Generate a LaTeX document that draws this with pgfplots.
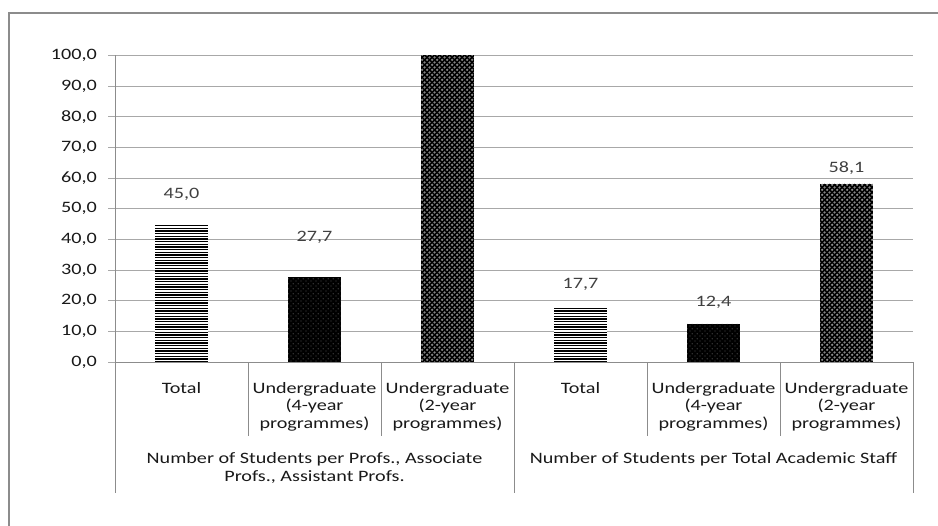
\documentclass[border=0pt]{standalone}
\usepackage{fontspec}
\setmainfont{Carlito}[FakeStretch=1.27]
\usepackage{pgfplots}
\pgfplotsset{compat=1.18}
\usetikzlibrary{patterns}

\newcommand\fs{\fontsize{11.9}{13.1}\selectfont}
\definecolor{framegray}{HTML}{8C8C8C}
\definecolor{gridgray}{HTML}{A8A8A8}
\definecolor{labelgray}{HTML}{404040}

% thin horizontal stripes
\pgfdeclarepatternformonly{hstripes}{\pgfpoint{-0.1pt}{-0.1pt}}{\pgfpoint{1.1pt}{2.1pt}}{\pgfpoint{1pt}{2pt}}{%
  \pgfsetlinewidth{0.95pt}%
  \pgfpathmoveto{\pgfpoint{-0.1pt}{0.5pt}}\pgfpathlineto{\pgfpoint{1.1pt}{0.5pt}}\pgfusepath{stroke}}
% small dots on an offset grid
\pgfdeclarepatternformonly{fdots}{\pgfpoint{0pt}{0pt}}{\pgfpoint{3.4pt}{3.4pt}}{\pgfpoint{3.4pt}{3.4pt}}{%
  \pgfpathcircle{\pgfpoint{0.85pt}{0.85pt}}{0.35pt}%
  \pgfpathcircle{\pgfpoint{2.55pt}{2.55pt}}{0.35pt}\pgfusepath{fill}}
% little rings, woven look
\pgfdeclarepatternformonly{rings}{\pgfpoint{0pt}{0pt}}{\pgfpoint{4pt}{4pt}}{\pgfpoint{4pt}{4pt}}{%
  \pgfsetlinewidth{0.4pt}%
  \pgfpathcircle{\pgfpoint{1pt}{1pt}}{0.7pt}%
  \pgfpathcircle{\pgfpoint{3pt}{3pt}}{0.7pt}\pgfusepath{stroke}}

\pgfplotsset{
  barA/.style={ybar, bar shift=0pt, bar width=39.5pt, draw=none, fill=white,
    postaction={pattern=hstripes, pattern color=black}},
  barB/.style={ybar, bar shift=0pt, bar width=39.5pt, draw=none, fill=black,
    postaction={pattern=fdots, pattern color=white!80!black}},
  barC/.style={ybar, bar shift=0pt, bar width=39.5pt, draw=none, fill=black,
    postaction={pattern=rings, pattern color=white!62!black}},
  vlabel/.style={nodes near coords={\pgfmathprintnumber[fixed,fixed zerofill,precision=1,use comma,assume math mode=true]{\pgfplotspointmeta}},
    every node near coord/.append style={anchor=center, font=\fs, text=labelgray, yshift=#1}},
}

\begin{document}
\begin{tikzpicture}
\path[use as bounding box] (0,0) rectangle (703.5pt,-393.75pt);
\fill[white] (0,0) rectangle (703.5pt,-393.75pt);
\draw[framegray, line width=1.5pt] (6.4pt,-400pt) -- (6.4pt,-10.1pt) -- (710pt,-10.1pt);

\begin{axis}[
  at={(86.25pt,-271.5pt)}, anchor=south west,
  scale only axis,
  width=598.5pt, height=229.9pt,
  xmin=-0.5, xmax=5.5,
  ymin=0, ymax=100,
  clip=false,
  axis lines*=left,
  axis line style={framegray, line width=0.75pt},
  xtick={0,1,2,3,4,5},
  xticklabels={
    Total,
    Undergraduate\\(4-year\\programmes),
    Undergraduate\\(2-year\\programmes),
    Total,
    Undergraduate\\(4-year\\programmes),
    Undergraduate\\(2-year\\programmes)},
  x tick style={draw=none},
  xticklabel style={align=center, anchor=north, inner sep=0pt, yshift=-9.9pt, font=\fs, text=black!90},
  ytick={0,10,...,100},
  ymajorgrids,
  major grid style={gridgray, line width=0.75pt},
  y tick style={gridgray, line width=0.75pt},
  tick align=outside,
  major tick length=5.25pt,
  yticklabel style={anchor=east, inner sep=0pt, xshift=-8.2pt, font=\fs, text=black!90,
    /pgf/number format/.cd, fixed, fixed zerofill, precision=1, use comma, assume math mode=true},
]
% Total
\addplot[barA, vlabel=22.0pt] coordinates {(0,45.0)};
\addplot[barA, vlabel=17.6pt] coordinates {(3,17.7)};
% Undergraduate, 4-year programmes
\addplot[barB, vlabel=29.5pt] coordinates {(1,27.7)};
\addplot[barB, vlabel=16.5pt] coordinates {(4,12.4)};
% Undergraduate, 2-year programmes
\addplot[barC] coordinates {(2,100.0)};
\addplot[barC, vlabel=12.0pt] coordinates {(5,58.1)};

% category separators
\draw[framegray, line width=0.75pt] (axis cs:0.5,0) -- ([yshift=-55.5pt]axis cs:0.5,0);
\draw[framegray, line width=0.75pt] (axis cs:1.5,0) -- ([yshift=-55.5pt]axis cs:1.5,0);
\draw[framegray, line width=0.75pt] (axis cs:3.5,0) -- ([yshift=-55.5pt]axis cs:3.5,0);
\draw[framegray, line width=0.75pt] (axis cs:4.5,0) -- ([yshift=-55.5pt]axis cs:4.5,0);
\draw[framegray, line width=0.75pt] (axis cs:-0.5,0) -- ([yshift=-98.25pt]axis cs:-0.5,0);
\draw[framegray, line width=0.75pt] (axis cs:2.5,0) -- ([yshift=-98.25pt]axis cs:2.5,0);
\draw[framegray, line width=0.75pt] (axis cs:5.5,0) -- ([yshift=-98.25pt]axis cs:5.5,0);

% group labels
\node[anchor=north, align=center, inner sep=0pt, font=\fs, text=black!90] at ([yshift=-68pt]axis cs:1,0)
  {Number of Students per Profs., Associate\\Profs., Assistant Profs.};
\node[anchor=north, align=center, inner sep=0pt, font=\fs, text=black!90] at ([yshift=-68pt]axis cs:4,0)
  {Number of Students per Total Academic Staff};
\end{axis}
\end{tikzpicture}
\end{document}
